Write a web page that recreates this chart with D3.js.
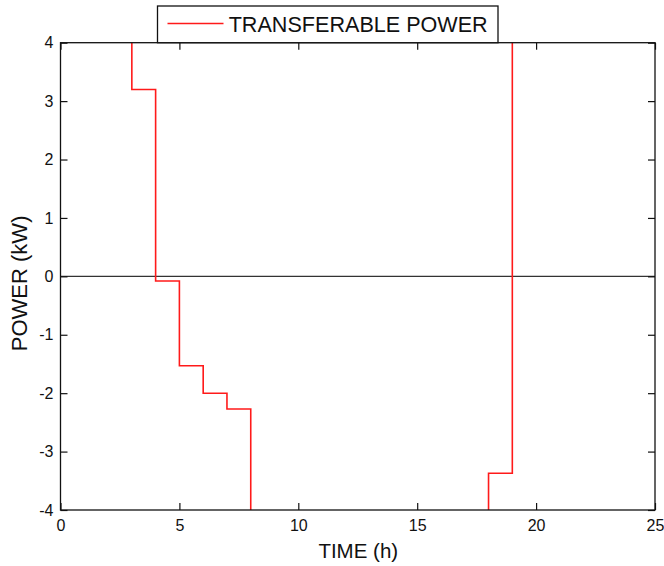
<!DOCTYPE html>
<html>
<head>
<meta charset="utf-8">
<script src="https://cdn.jsdelivr.net/npm/d3@7"></script>
<style>
  html, body { margin: 0; padding: 0; background: #fff; }
  svg { display: block; }
  text { font-family: "Liberation Sans", Arial, sans-serif; fill: #111; }
</style>
</head>
<body>
<svg id="chart" width="664" height="566"></svg>
<script>
// Hourly transferable power (kW); each value holds from its hour to the next.
const hours  = [0, 1, 2, 3, 4, 5, 6, 7, 8, 9, 10, 11, 12, 13, 14, 15, 16, 17, 18, 19, 20, 21, 22, 23, 24];
const power  = [6, 6, 6, 3.2, -0.08, -1.53, -2.0, -2.27, -6, -6, -6, -6, -6, -6, -6, -6, -6, -6, -3.37, 6, 6, 6, 6, 6, 6];
const xTicks = [0, 5, 10, 15, 20, 25];
const yTicks = [-4, -3, -2, -1, 0, 1, 2, 3, 4];
const seriesName = "TRANSFERABLE POWER";

(function () {
  const svg = d3.select("#chart");
  const m = { left: 60.5, right: 655, top: 42.7, bottom: 510 };

  const x = d3.scaleLinear().domain([0, 25]).range([m.left, m.right]);
  const y = d3.scaleLinear().domain([-4, 4]).range([m.bottom, m.top]);

  svg.append("defs").append("clipPath").attr("id", "plotClip")
    .append("rect")
    .attr("x", m.left).attr("y", m.top)
    .attr("width", m.right - m.left).attr("height", m.bottom - m.top);

  // zero reference line
  svg.append("line")
    .attr("x1", x(0)).attr("x2", x(25))
    .attr("y1", y(0)).attr("y2", y(0))
    .attr("stroke", "#333").attr("stroke-width", 1.3);

  // step series
  const pts = hours.map((h, i) => [h, power[i]]);
  pts.push([25, power[power.length - 1]]);
  const line = d3.line()
    .x(d => x(d[0])).y(d => y(d[1]))
    .curve(d3.curveStepAfter);
  svg.append("path")
    .attr("clip-path", "url(#plotClip)")
    .attr("d", line(pts))
    .attr("fill", "none")
    .attr("stroke", "#ff1a1a")
    .attr("stroke-width", 1.6);

  // axes with inward ticks on all four sides; labels use a plain hyphen for negatives
  const tickLen = 7;
  const fontSize = "16px";
  const plain = d => String(d);

  const axBottom = svg.append("g").attr("transform", `translate(0,${m.bottom})`)
    .call(d3.axisBottom(x).tickValues(xTicks).tickSize(-tickLen).tickPadding(10).tickFormat(plain));
  const axTop = svg.append("g").attr("transform", `translate(0,${m.top})`)
    .call(d3.axisTop(x).tickValues(xTicks).tickSize(-tickLen).tickFormat(""));
  const axLeft = svg.append("g").attr("transform", `translate(${m.left},0)`)
    .call(d3.axisLeft(y).tickValues(yTicks).tickSize(-tickLen).tickPadding(7).tickFormat(plain));
  const axRight = svg.append("g").attr("transform", `translate(${m.right},0)`)
    .call(d3.axisRight(y).tickValues(yTicks).tickSize(-tickLen).tickFormat(""));

  [axBottom, axTop, axLeft, axRight].forEach(g => {
    g.select(".domain").remove();
    g.selectAll(".tick line").attr("stroke", "#111").attr("stroke-width", 1.2);
    g.selectAll(".tick text")
      .style("font-family", "'Liberation Sans', Arial, sans-serif")
      .style("font-size", fontSize).attr("fill", "#111");
  });

  // plot frame
  svg.append("rect")
    .attr("x", m.left).attr("y", m.top)
    .attr("width", m.right - m.left).attr("height", m.bottom - m.top)
    .attr("fill", "none").attr("stroke", "#111").attr("stroke-width", 1.3);

  // axis titles
  svg.append("text")
    .attr("x", (m.left + m.right) / 2 + 0.5).attr("y", 558)
    .attr("text-anchor", "middle")
    .style("font-size", "20.5px")
    .text("TIME (h)");

  svg.append("text")
    .attr("transform", `translate(27, ${(m.top + m.bottom) / 2 + 7}) rotate(-90)`)
    .attr("text-anchor", "middle")
    .style("font-size", "22px")
    .text("POWER (kW)");

  // legend
  const legend = svg.append("g");
  legend.append("rect")
    .attr("x", 157.5).attr("y", 6)
    .attr("width", 340.5).attr("height", 36.7)
    .attr("fill", "#fff").attr("stroke", "#111").attr("stroke-width", 1.3);
  legend.append("line")
    .attr("x1", 167.5).attr("x2", 223.5)
    .attr("y1", 23.5).attr("y2", 23.5)
    .attr("stroke", "#ff1a1a").attr("stroke-width", 1.6);
  legend.append("text")
    .attr("x", 228.7).attr("y", 32)
    .style("font-size", "21.6px")
    .attr("textLength", 259).attr("lengthAdjust", "spacingAndGlyphs")
    .text(seriesName);
})();
</script>
</body>
</html>
